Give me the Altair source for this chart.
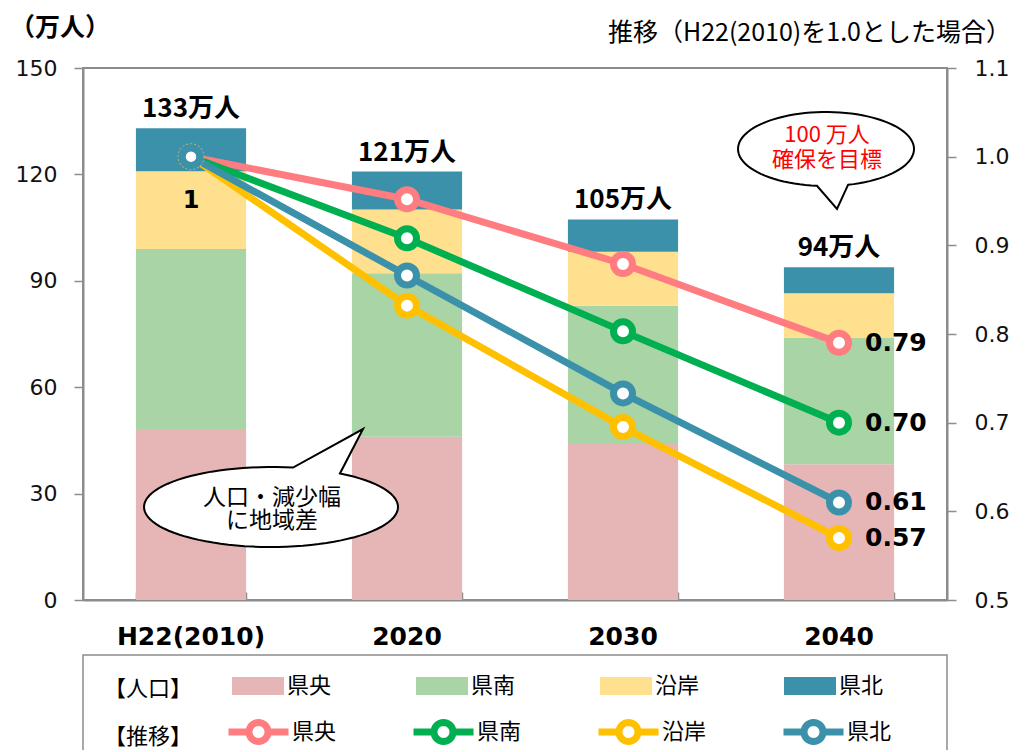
import altair as alt
import numpy as np
import pandas as pd

# ---------------- data ----------------
years = ["H22(2010)", "2020", "2030", "2040"]
regions = ["県央", "県南", "沿岸", "県北"]

pop_kenou = [48.2, 46.0, 44.0, 38.3]
pop_kennan = [50.8, 46.1, 39.0, 35.7]
pop_engan = [21.9, 18.0, 15.2, 12.5]
pop_kenpoku = [12.1, 10.7, 9.1, 7.3]
total_labels = ["133万人", "121万人", "105万人", "94万人"]

idx_kenou = [1.00, 0.952, 0.879, 0.79]
idx_kennan = [1.00, 0.908, 0.803, 0.70]
idx_engan = [1.00, 0.832, 0.695, 0.57]
idx_kenpoku = [1.00, 0.866, 0.733, 0.61]

left_unit = "（万人）"
right_unit = "推移（H22(2010)を1.0とした場合）"
callout1_lines = ["100 万人", "確保を目標"]
callout2_lines = ["人口・減少幅", "に地域差"]
legend_titles = ["【人口】", "【推移】"]

# ---------------- styles ----------------
bar_colors = ["#e6b6b6", "#a9d4a5", "#fee08f", "#3b91aa"]
line_colors = ["#ff7c80", "#00b050", "#ffc000", "#3b91aa"]
GRAY = "#8c8c8c"
JP = "Noto Sans CJK JP"
NUM = "DejaVu Sans"
ZW = "\u200b"  # keeps the line legend separate from the bar legend

pops = [pop_kenou, pop_kennan, pop_engan, pop_kenpoku]
idxs = [idx_kenou, idx_kennan, idx_engan, idx_kenpoku]
series = [r + ZW for r in regions]

bar_df = pd.DataFrame([
    {"year": y, "地域": r, "人口": pops[i][j], "ord": i}
    for i, r in enumerate(regions) for j, y in enumerate(years)
])
tot_df = pd.DataFrame({
    "year": years,
    "total": [sum(p[j] for p in pops) for j in range(len(years))],
    "label": total_labels,
})
line_df = pd.DataFrame([
    {"year": y, "yi": j, "系列": s, "推移": idxs[i][j]}
    for i, s in enumerate(series) for j, y in enumerate(years)
])
start_df = line_df[line_df["yi"] == 0].head(1).assign(label="1")
mid_df = line_df[line_df["yi"] != 0]
end_df = line_df[line_df["yi"] == len(years) - 1]
one = pd.DataFrame({"a": [0]})


def callout_path(rx, ry, t0, t1, tip, n=90):
    ts = np.radians(np.linspace(t0, t1, n))
    pts = [f"{rx*np.cos(t):.4f},{ry*np.sin(t):.4f}" for t in ts]
    return "M" + "L".join(pts) + f"L{tip[0]},{tip[1]}Z"


def circle_pts(r, n=32):
    ts = np.radians(np.linspace(0, 360, n, endpoint=False))
    return "L".join(f"{r*np.cos(t):.4f},{r*np.sin(t):.4f}" for t in ts)


CALLOUT1 = callout_path(0.88, 0.37, 75.5, 95.9 - 360, (0.11, 0.60))
CALLOUT2 = callout_path(1.27, 0.40, -57.1, 280.0, (0.92, -0.78))
RECT_SYM = "M-1,-0.35L1,-0.35L1,0.35L-1,0.35Z"
LINE_SYM = "M-1,0L-0.317,0M0.317,0L1,0M" + circle_pts(0.317) + "Z"

x_scale = alt.Scale(domain=years, paddingInner=0.49, paddingOuter=0.245)
X_bottom = alt.X("year:N", scale=x_scale, axis=alt.Axis(
    title=None, labelAngle=0, labelFont=NUM, labelFontSize=25, labelFontWeight="bold",
    labelColor="#000", ticks=False, domainColor=GRAY, domainWidth=2, labelPadding=24))
X_top = alt.X("year:N", scale=x_scale, axis=alt.Axis(
    title=None, orient="top", offset=-532, labels=False, domain=False, ticks=True,
    tickBand="extent", tickSize=8, tickColor=GRAY, tickWidth=1.5))

left_scale = alt.Scale(domain=[0, 150], nice=False)
Y_left = alt.Y("人口:Q", stack="zero", scale=left_scale, axis=alt.Axis(
    title=None, values=[0, 30, 60, 90, 120, 150], labelFont=NUM, labelFontSize=22,
    labelColor="#111", tickSize=9, tickColor=GRAY, tickWidth=1.5, domainColor=GRAY,
    domainWidth=2, labelPadding=17, grid=False))

right_scale = alt.Scale(domain=[0.5, 1.1], nice=False, zero=False)
Y_right = alt.Y("推移:Q", scale=right_scale, axis=alt.Axis(
    title=None, orient="right", values=[0.5, 0.6, 0.7, 0.8, 0.9, 1.0, 1.1], format=".1f",
    labelFont=NUM, labelFontSize=22, labelColor="#111", tickSize=9, tickColor=GRAY,
    tickWidth=1.5, domainColor=GRAY, domainWidth=2, labelPadding=18, grid=False))

bars = alt.Chart(bar_df).mark_bar().encode(
    x=X_bottom,
    y=Y_left,
    fill=alt.Fill("地域:N", scale=alt.Scale(domain=regions, range=bar_colors),
                  legend=alt.Legend(
                      title=legend_titles[0], orient="none", legendX=21, legendY=592,
                      direction="horizontal", columns=4, titleOrient="left", titlePadding=39,
                      titleAnchor="middle", titleBaseline="top",
                      titleFont=JP, titleFontSize=22, titleFontWeight="normal", titleColor="#000",
                      labelFont=JP, labelFontSize=22, labelColor="#000", labelOffset=3,
                      columnPadding=84, symbolType=RECT_SYM, symbolSize=2704,
                      symbolStrokeWidth=0, symbolOpacity=1, padding=0)),
    order=alt.Order("ord:Q", sort="ascending"),
)

totals = alt.Chart(tot_df).mark_text(
    baseline="bottom", dy=-6, font=JP, fontSize=26, fontWeight="bold", color="#000"
).encode(x=X_bottom, y=alt.Y("total:Q", scale=left_scale), text="label:N")

left = alt.layer(bars, totals)

stroke_enc = alt.Stroke("系列:N", scale=alt.Scale(domain=series, range=line_colors),
                        legend=alt.Legend(
                            title=legend_titles[1], orient="none", legendX=21, legendY=630,
                            direction="horizontal", columns=4, titleOrient="left", titlePadding=32,
                            titleAnchor="middle", titleBaseline="top",
                            titleFont=JP, titleFontSize=22, titleFontWeight="normal", titleColor="#000",
                            labelFont=JP, labelFontSize=22, labelColor="#000", labelOffset=0,
                            columnPadding=62, symbolType=LINE_SYM, symbolSize=3600,
                            symbolStrokeWidth=7, symbolFillColor="white", symbolOpacity=1, padding=0))

lines = alt.Chart(line_df).mark_line(strokeWidth=7).encode(
    x=X_top, y=Y_right, stroke=stroke_enc, order=alt.Order("yi:Q"))
pts = alt.Chart(mid_df).mark_point(filled=True, fill="white", size=361, strokeWidth=7, opacity=1).encode(
    x=X_top, y=Y_right, stroke=stroke_enc)
start_outer = alt.Chart(start_df).mark_point(
    filled=True, fill=bar_colors[3], size=676, stroke="#c8b870", strokeWidth=1,
    strokeDash=[2, 2], opacity=1).encode(x=X_top, y=Y_right)
start_inner = alt.Chart(start_df).mark_point(
    filled=True, fill="white", size=110, strokeWidth=0, opacity=1).encode(x=X_top, y=Y_right)
start_label = alt.Chart(start_df).mark_text(
    dy=44, font=NUM, fontSize=24, fontWeight="bold", color="#000").encode(
    x=X_top, y=Y_right, text="label:N")
end_labels = alt.Chart(end_df).mark_text(
    align="left", dx=26, font=NUM, fontSize=25, fontWeight="bold", color="#000").encode(
    x=X_top, y=Y_right, text=alt.Text("推移:Q", format=".2f"))

c1 = alt.Chart(one).mark_point(shape=CALLOUT1, size=40000, filled=True, fill="white",
                               stroke="#000", strokeWidth=2, opacity=1).encode(
    x=alt.value(743), y=alt.value(81))
c2 = alt.Chart(one).mark_point(shape=CALLOUT2, size=40000, filled=True, fill="white",
                               stroke="#000", strokeWidth=2, opacity=1).encode(
    x=alt.value(188), y=alt.value(439))
c1t = [alt.Chart(one).mark_text(text=t, font=JP, fontSize=22, color="#ff0000").encode(
    x=alt.value(744), y=alt.value(yy)) for t, yy in zip(callout1_lines, [67, 92])]
c2t = [alt.Chart(one).mark_text(text=t, font=JP, fontSize=23, color="#000").encode(
    x=alt.value(189), y=alt.value(yy)) for t, yy in zip(callout2_lines, [430, 453])]

t_left = alt.Chart(one).mark_text(text=left_unit, align="left", font=JP, fontSize=25,
                                  fontWeight="bold", color="#000").encode(
    x=alt.value(-73), y=alt.value(-40))
t_right = alt.Chart(one).mark_text(text=right_unit, align="right", font=JP, fontSize=25,
                                   color="#000").encode(x=alt.value(928), y=alt.value(-35))
box = alt.Chart(one).mark_rect(fill="transparent", stroke=GRAY, strokeWidth=1.5).encode(
    x=alt.value(0), x2=alt.value(864), y=alt.value(587), y2=alt.value(720))

right = alt.layer(box, lines, pts, start_outer, start_inner, start_label, end_labels,
                  c1, c2, *c1t, *c2t, t_left, t_right)

chart = alt.layer(left, right).resolve_scale(y="independent").resolve_axis(
    x="independent").properties(
    width=864, height=532,
    autosize=alt.AutoSizeParams(type="none"),
    padding={"left": 75, "top": 60, "right": 70, "bottom": 150},
).configure_view(stroke=GRAY, strokeWidth=2)

chart.save("out.html", embed_options={"renderer": "svg", "actions": False})
